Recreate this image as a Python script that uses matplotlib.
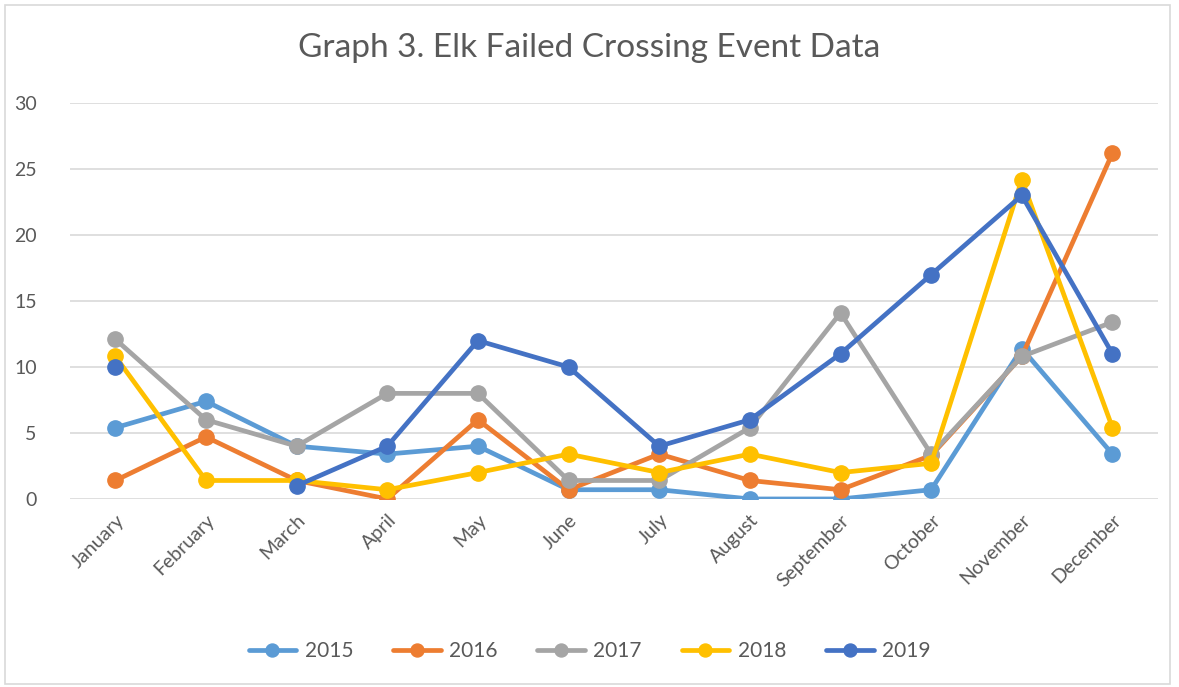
import numpy as np
import matplotlib
matplotlib.use('Agg')
import matplotlib.pyplot as plt
from matplotlib.patches import Rectangle

plt.rcParams['font.family'] = ['Lato', 'DejaVu Sans']

MONTHS = ['January', 'February', 'March', 'April', 'May', 'June', 'July',
          'August', 'September', 'October', 'November', 'December']
Y2015 = [5.4, 7.4, 4.0, 3.4, 4.0, 0.7, 0.7, 0.0, 0.0, 0.7, 11.4, 3.4]
Y2016 = [1.4, 4.7, 1.4, 0.0, 6.0, 0.7, 3.4, 1.4, 0.7, 3.3, 10.8, 26.2]
Y2017 = [12.1, 6.0, 4.0, 8.0, 8.0, 1.4, 1.4, 5.4, 14.1, 3.4, 10.8, 13.4]
Y2018 = [10.8, 1.4, 1.4, 0.7, 2.0, 3.4, 2.0, 3.4, 2.0, 2.7, 24.2, 5.4]
Y2019 = [10.0, np.nan, 1.0, 4.0, 12.0, 10.0, 4.0, 6.0, 11.0, 17.0, 23.0, 11.0]

SERIES = [('2015', Y2015, '#5B9BD5'), ('2016', Y2016, '#ED7D31'),
          ('2017', Y2017, '#A5A5A5'), ('2018', Y2018, '#FFC000'),
          ('2019', Y2019, '#4472C4')]
TXT = '#595959'

fig = plt.figure(figsize=(11.79, 6.87), dpi=100)
ax = fig.add_axes([0.0594, 0.2737, 0.9226, 0.5763])
fig.patches.append(Rectangle((0.004, 0.005), 0.988, 0.988, transform=fig.transFigure,
                             fill=False, ec='#D9D9D9', lw=1.2))

x = np.arange(len(MONTHS))
for name, vals, col in SERIES:
    ax.plot(x, vals, color=col, lw=3.4, marker='o', ms=11, label=name,
            solid_capstyle='round', zorder=3)

ax.set_xlim(-0.5, 11.5)
ax.set_ylim(0, 30)
ax.set_yticks(range(0, 31, 5))
ax.grid(axis='y', color='#D9D9D9', lw=1.2, zorder=0)
ax.set_axisbelow(True)
for s in ax.spines.values():
    s.set_visible(False)
ax.tick_params(axis='both', length=0, colors=TXT, labelsize=14)
ax.tick_params(axis='y', pad=24)
ax.set_xticks(x)
ax.set_xticklabels(MONTHS, rotation=45, ha='right', rotation_mode='anchor')
ax.tick_params(axis='x', pad=9)

fig.text(0.5, 0.93, 'Graph 3. Elk Failed Crossing Event Data', ha='center', va='center',
         fontsize=24, color=TXT)
fig.legend(loc='center', bbox_to_anchor=(0.5, 0.052), ncol=5, frameon=False,
           fontsize=15, labelcolor=TXT, handlelength=2.3, columnspacing=1.9,
           handletextpad=0.4, markerscale=0.85)

fig.savefig('out.png', dpi=100)
